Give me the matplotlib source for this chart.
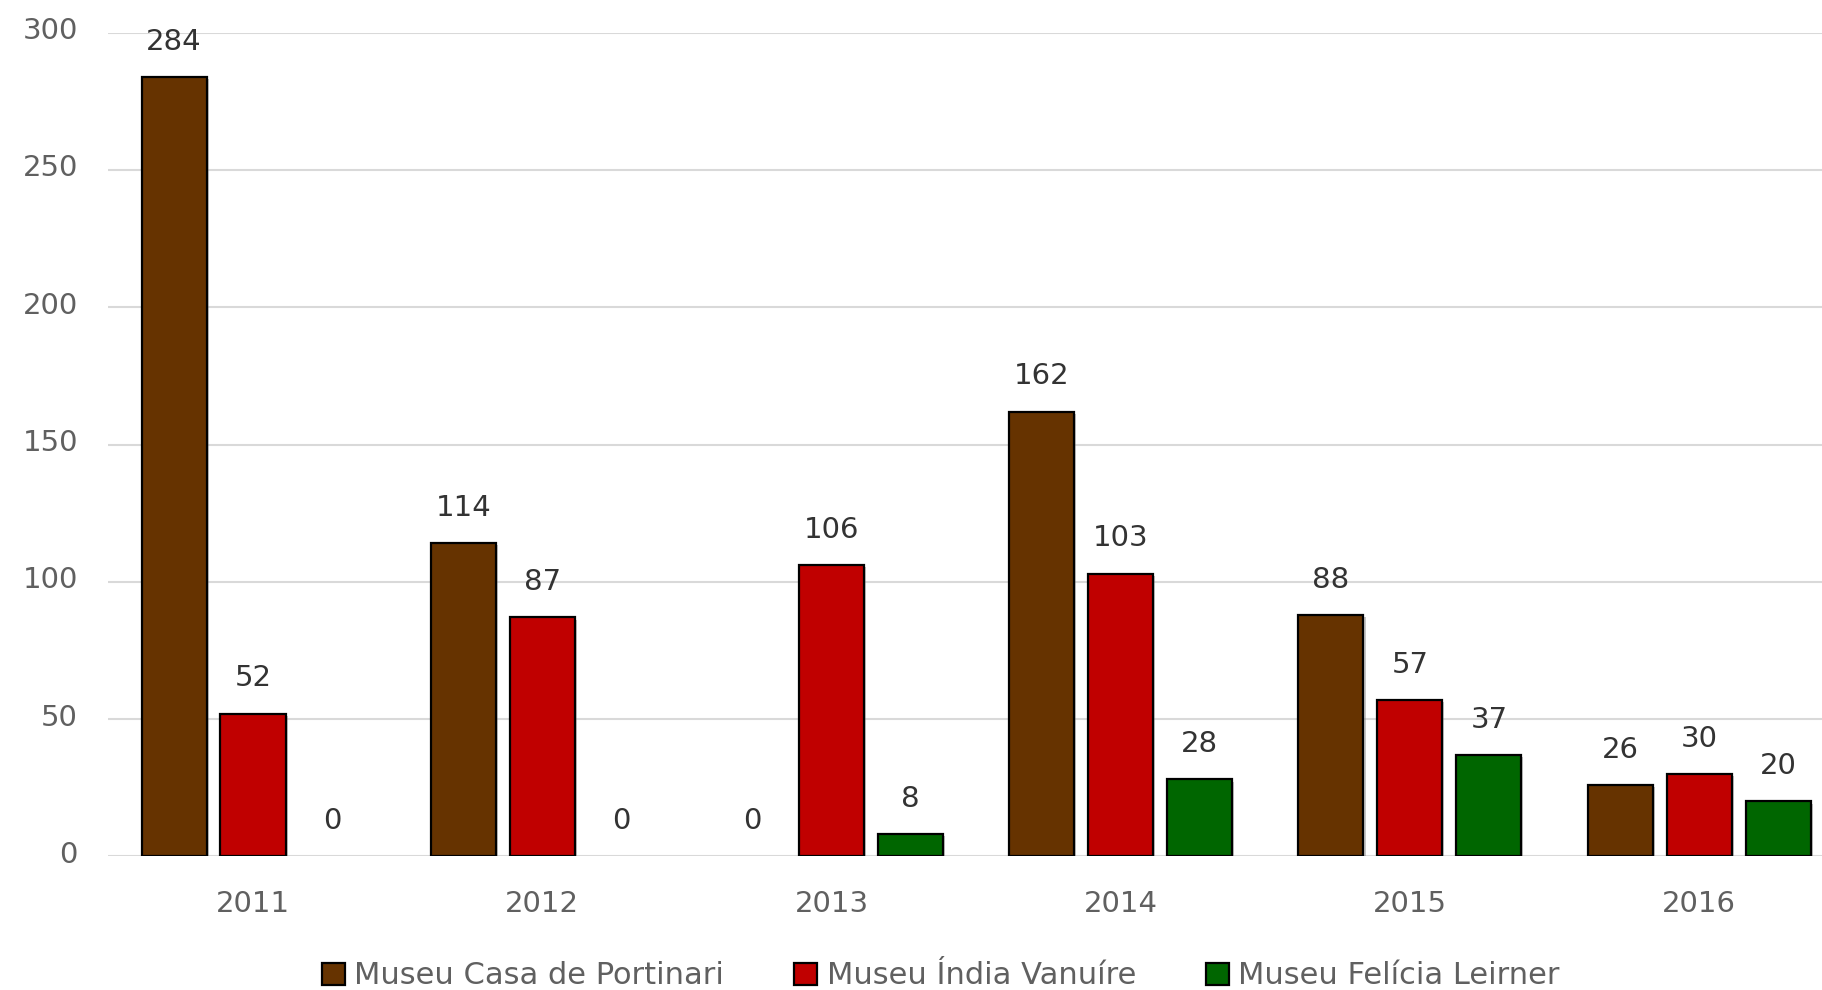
import matplotlib

matplotlib.use("Agg")
import matplotlib.pyplot as plt
import matplotlib.patheffects as pe
import matplotlib.transforms as mtransforms
import numpy as np

plt.rcParams["font.family"] = ["DejaVu Sans"]

years = ["2011", "2012", "2013", "2014", "2015", "2016"]
series_names = ["Museu Casa de Portinari", "Museu Índia Vanuíre", "Museu Felícia Leirner"]
portinari = [284, 114, 0, 162, 88, 26]
vanuire = [52, 87, 106, 103, 57, 30]
leirner = [0, 0, 8, 28, 37, 20]
y_ticks = [0, 50, 100, 150, 200, 250, 300]

COLORS = ["#663300", "#C00000", "#006600"]
LABEL_COLOR = "#333333"
TICK_COLOR = "#606060"
GRID_COLOR = "#D9D9D9"

fig = plt.figure(figsize=(18.22, 9.9), dpi=100)
ax = fig.add_axes([108.4 / 1822, 0.135, 1 - 108.4 / 1822, 0.832])

x = np.arange(len(years))
pitch = 0.273
width = 0.225
shadow = [pe.SimplePatchShadow(offset=(1.5, -1.5), shadow_rgbFace="#707070", alpha=0.4), pe.Normal()]

for i, (name, values) in enumerate(zip(series_names, [portinari, vanuire, leirner])):
    pos = x + (i - 1) * pitch
    bars = ax.bar(pos, values, width=width, color=COLORS[i], edgecolor="black",
                  linewidth=1.6, label=name, zorder=3)
    for bar, v in zip(bars, values):
        bar.set_path_effects(shadow)
        if v == 0:
            bar.set_visible(False)
        ax.annotate(str(v), (bar.get_x() + bar.get_width() / 2, v),
                    xytext=(0, 19.5), textcoords="offset points",
                    ha="center", va="baseline", fontsize=21, color=LABEL_COLOR, zorder=4)

ax.set_xlim(-0.5, 5.425)
ax.set_ylim(0, 300)
ax.set_yticks(y_ticks)
ax.set_xticks(x)
ax.set_xticklabels(years)
ax.tick_params(axis="both", length=0, labelsize=21, labelcolor=TICK_COLOR)
ax.tick_params(axis="x", pad=24)
ax.tick_params(axis="y", pad=22)
lift = mtransforms.ScaledTranslation(0, 4.5 / 100, fig.dpi_scale_trans)
for lbl in ax.get_yticklabels():
    lbl.set_transform(lbl.get_transform() + lift)
ax.yaxis.grid(True, color=GRID_COLOR, linewidth=1.5, zorder=0)
ax.set_axisbelow(True)
for spine in ax.spines.values():
    spine.set_visible(False)

handles, labels = ax.get_legend_handles_labels()
leg = fig.legend(handles, labels, loc="center", bbox_to_anchor=(941 / 1822, 1 - 976 / 990),
                 ncol=3, frameon=False, fontsize=22, handlelength=0.75, handleheight=0.75,
                 handletextpad=0.3, columnspacing=2.3, borderpad=0)
for text in leg.get_texts():
    text.set_color(TICK_COLOR)
for h in leg.legend_handles:
    h.set_visible(True)
    h.set_path_effects([pe.Normal()])

fig.savefig("out.png", dpi=100)
